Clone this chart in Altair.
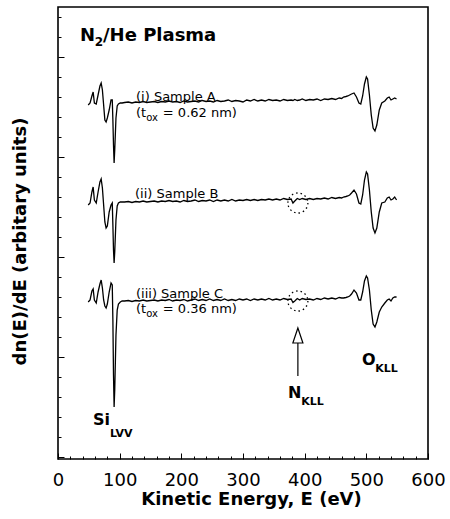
import altair as alt
import pandas as pd

# ---------------- data ----------------
energy = [49, 52, 55, 57, 59, 62, 65, 68, 70, 72, 74, 76, 78, 80, 83, 86, 88, 89, 90, 91, 92, 94, 96, 98, 101, 104,
          108, 114, 120, 126, 132, 138, 144, 150, 156, 162, 168, 174, 180, 186, 192, 198, 204, 210, 216, 222, 228,
          234, 240, 246, 252, 258, 264, 270, 276, 282, 288, 294, 300, 306, 312, 318, 324, 330, 336, 342, 348, 354,
          360, 366, 372, 378, 381, 384, 388, 392, 396, 402, 408, 414, 420, 426, 432, 438, 444, 450, 456, 460,
          463, 467, 470, 473, 476, 480, 484, 488, 491, 494, 497, 500, 502, 505, 508, 511, 514, 517, 521, 525,
          530, 534, 537, 540, 543, 546, 549]

sample_a = [352, 354, 361, 365, 354, 353, 362, 371, 374, 367, 352, 337, 335, 339, 347, 357, 357, 337, 312, 294,
            307, 339, 351, 353, 354, 354,
            354.5, 355, 354, 355, 354.5, 355.5, 354.5, 355, 355.5, 354.5, 355.5, 355, 356, 355, 355.5, 354.5,
            356, 355, 355.5, 356, 355, 356.5, 355.5, 356, 355, 356.5, 355.5, 356, 357, 355.5, 356.5, 356, 355,
            357, 356, 357.5, 356, 357, 356, 357.5, 356.5, 357, 356, 357.5, 356.5, 357,
            356.5, 357.5, 356.5, 357, 358,
            356.5, 357.5, 357, 358, 356.5, 358, 357.5, 358.5, 357.5, 359, 358.5,
            360, 360.5, 361, 362, 363, 364, 360, 354, 353, 361, 373, 380, 378, 362, 342, 329, 326, 332, 347, 354,
            356, 359, 360, 357, 358, 359, 358]

sample_b = [252, 254, 265, 270, 257, 254, 265, 275, 278, 269, 252, 235, 229, 231, 245, 252, 254, 232, 207, 194,
            205, 237, 251, 254, 255, 255,
            255, 255.5, 254.5, 255.5, 255, 256, 255, 255.5, 256, 255, 256, 255.5, 256.5, 255.5, 256, 255, 256.5,
            255.5, 256, 257, 255.5, 256.5, 256, 257, 255.5, 257, 256, 257, 256, 257.5, 256, 257, 256.5, 257.5,
            256.5, 257.5, 256.5, 257.5, 257, 258, 257, 258, 257, 258.5, 257.5, 258,
            254, 256, 258.5, 257.5, 258.5,
            257.5, 258.5, 257.5, 258.5, 258, 259, 258, 259.5, 258.5, 259.5, 259,
            260, 260.5, 261, 262, 264, 267, 263, 254, 253, 262, 277, 285, 283, 267, 245, 229, 224, 229, 245, 254,
            255, 259, 260, 257, 258, 260, 257]

sample_c = [155, 157, 166, 168, 157, 154, 165, 173, 177, 169, 157, 151, 149, 153, 165, 174, 172, 137, 82, 50,
            67, 122, 147, 153, 155, 156,
            156, 156.5, 155.5, 156.5, 156, 157, 156, 156.5, 157, 156, 157, 156.5, 157.5, 156, 157, 156.5, 157.5,
            156, 157, 158, 156.5, 157.5, 156.5, 158, 156.5, 157.5, 156.5, 158, 156.5, 157.5, 156.5, 158, 157, 158,
            156.5, 158, 157, 158, 157, 158.5, 157, 158, 157, 158.5, 157.5, 158,
            154.5, 156, 158.5, 157, 158.5,
            157.5, 158, 157, 158.5, 157.5, 159, 158, 159, 158, 159.5, 159,
            159, 159.5, 160, 161, 163, 167, 164, 157, 157, 165, 176, 181, 179, 167, 147, 133, 130, 135, 145, 150,
            154, 157, 158, 156, 159, 160, 160]

trace_names = ["(i) Sample A", "(ii) Sample B", "(iii) Sample C"]

x_major_ticks = [0, 100, 200, 300, 400, 500, 600]
x_minor_ticks = [20, 40, 60, 80, 120, 140, 160, 180, 220, 240, 260, 280, 320, 340, 360, 380,
                 420, 440, 460, 480, 520, 540, 560, 580]
y_major_ticks = [0, 100, 200, 300, 400]
y_minor_ticks = [20, 40, 60, 80, 120, 140, 160, 180, 220, 240, 260, 280, 320, 340, 360, 380, 420, 440]

# annotation texts (bold)
bold_text = ["N", "2", "/He Plasma", "Si", "LVV", "N", "KLL", "O", "KLL"]
bold_e = [35.7, 59.6, 73.0, 56.8, 84.3, 373.0, 394.6, 493.0, 514.5]
bold_v = [416, 411, 416, 32, 20, 59, 52, 92, 85]
bold_size = [18, 12, 18, 16, 11, 16, 11, 16, 11]

# annotation texts (regular)
reg_text = ["(i) Sample A", "(t", "ox", "= 0.62 nm)", "(ii) Sample B",
            "(iii) Sample C", "(t", "ox", "= 0.36 nm)"]
reg_e = [126.5, 126.5, 143.0, 170.0, 124.9, 126.5, 126.5, 143.0, 170.0]
reg_v = [356, 340, 336, 340, 259.5, 159, 144, 140, 144]
reg_size = [13, 13, 10, 13, 13, 13, 13, 10, 13]

# N KLL markers
circle_e = [389, 389]
circle_v = [254, 156]
arrow_e = [389]
arrow_from = [81]
arrow_to = [114]
arrow_head = [121.5]

# ---------------- build tables ----------------
assert len(energy) == len(sample_a) == len(sample_b) == len(sample_c), (
    len(energy), len(sample_a), len(sample_b), len(sample_c))

rows = []
for name, vals in zip(trace_names, [sample_a, sample_b, sample_c]):
    for e, v in zip(energy, vals):
        rows.append({"E": e, "signal": v, "trace": name})
df = pd.DataFrame(rows)

bold_df = pd.DataFrame({"E": bold_e, "val": bold_v, "text": bold_text, "size": bold_size})
reg_df = pd.DataFrame({"E": reg_e, "val": reg_v, "text": reg_text, "size": reg_size})
circ_df = pd.DataFrame({"E": circle_e, "val": circle_v})
arrow_df = pd.DataFrame({"E": arrow_e, "v1": arrow_from, "v2": arrow_to, "head": arrow_head})

FONT = "DejaVu Sans"
xs = alt.Scale(domain=[0, 600], nice=False, zero=False)
ys = alt.Scale(domain=[-2, 450], nice=False, zero=False)

x_major = alt.Axis(values=x_major_ticks, orient="bottom", offset=-6, tickSize=6, tickColor="black",
                   tickWidth=1, domain=False, grid=False, labelFont=FONT, labelFontSize=18,
                   labelColor="black", labelPadding=12, labelFlush=False,
                   title="Kinetic Energy, E (eV)", titleFont=FONT, titleFontSize=18,
                   titleFontWeight="bold", titleColor="black", titleBaseline="top",
                   titleX=193, titleY=37)
y_major = alt.Axis(values=y_major_ticks, orient="left", offset=-6, tickSize=6, tickColor="black",
                   tickWidth=1, domain=False, grid=False, labels=False,
                   title="dn(E)/dE (arbitary units)", titleFont=FONT, titleFontSize=18,
                   titleFontWeight="bold", titleColor="black", titlePadding=28, titleY=234)
x_minor = alt.Axis(values=x_minor_ticks, orient="bottom", offset=-3, tickSize=3, tickColor="black",
                   tickWidth=1, domain=False, grid=False, labels=False, title=None)
y_minor = alt.Axis(values=y_minor_ticks, orient="left", offset=-3, tickSize=3, tickColor="black",
                   tickWidth=1, domain=False, grid=False, labels=False, title=None)

lines = alt.Chart(df).mark_line(color="black", strokeWidth=1.3).encode(
    x=alt.X("E:Q", scale=xs, axis=x_major),
    y=alt.Y("signal:Q", scale=ys, axis=y_major),
    detail="trace:N",
)

circles = alt.Chart(circ_df).mark_point(shape="circle", size=400, filled=False, color="black",
                                        strokeDash=[1.5, 3], strokeWidth=1.3, opacity=1).encode(
    x=alt.X("E:Q", scale=xs, axis=x_minor),
    y=alt.Y("val:Q", scale=ys, axis=y_minor),
)

bold_layer = alt.Chart(bold_df).mark_text(font=FONT, fontWeight="bold", align="left",
                                          baseline="alphabetic", color="black").encode(
    x=alt.X("E:Q", scale=xs, axis=None),
    y=alt.Y("val:Q", scale=ys, axis=None),
    text="text:N",
    size=alt.Size("size:Q", scale=None),
)

reg_layer = alt.Chart(reg_df).mark_text(font=FONT, align="left", baseline="alphabetic",
                                        color="black").encode(
    x=alt.X("E:Q", scale=xs, axis=None),
    y=alt.Y("val:Q", scale=ys, axis=None),
    text="text:N",
    size=alt.Size("size:Q", scale=None),
)

shaft = alt.Chart(arrow_df).mark_rule(color="black", strokeWidth=1.2).encode(
    x=alt.X("E:Q", scale=xs, axis=None),
    y=alt.Y("v1:Q", scale=ys, axis=None),
    y2="v2:Q",
)

head = alt.Chart(arrow_df).mark_point(shape="M0,-1L0.67,1L-0.67,1Z", size=225, filled=True,
                                      fill="white", stroke="black", strokeWidth=1.2, opacity=1).encode(
    x=alt.X("E:Q", scale=xs, axis=None),
    y=alt.Y("head:Q", scale=ys, axis=None),
)

chart = alt.layer(lines, circles, bold_layer, reg_layer, shaft, head).resolve_axis(
    x="independent", y="independent"
).properties(
    width=370, height=452,
    autosize=alt.AutoSizeParams(type="none"),
    padding={"left": 58, "top": 7, "right": 22, "bottom": 60},
    background="white",
).configure_view(stroke="black", strokeWidth=1.6)

chart.save("out.html", embed_options={"renderer": "svg", "actions": False})
